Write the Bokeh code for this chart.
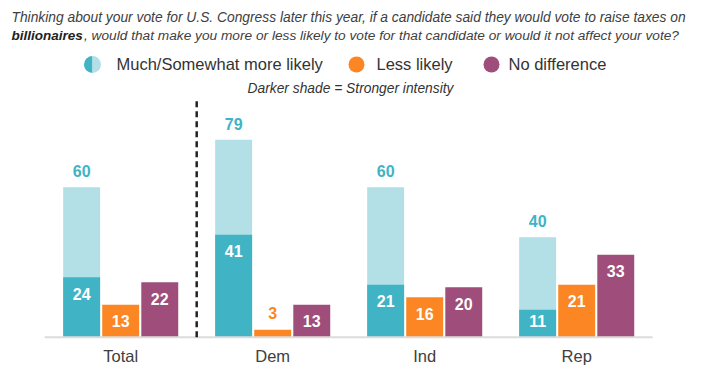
import numpy as np
from bokeh.plotting import figure
from bokeh.models import ColumnDataSource
from bokeh.core.properties import value
from bokeh.embed import file_html
from bokeh.resources import INLINE

# ---------------- data ----------------
groups = ["Total", "Dem", "Ind", "Rep"]
more_likely = [60, 79, 60, 40]          # Much/Somewhat more likely (total)
strongly_more = [24, 41, 21, 11]        # Much more likely (darker shade)
less_likely = [13, 3, 16, 21]
no_difference = [22, 13, 20, 33]

legend_labels = ["Much/Somewhat more likely", "Less likely", "No difference"]
title_line1 = ("Thinking about your vote for U.S. Congress later this year, "
               "if a candidate said they would vote to raise taxes on")
title_bold = "billionaires"
title_rest = (", would that make you more or less likely to vote for that "
              "candidate or would it not affect your vote?")
note = "Darker shade = Stronger intensity"

# ---------------- style ----------------
LIGHT = "#b2e0e6"
TEAL = "#40b3c5"
ORANGE = "#fb8623"
PURPLE = "#9f4d7a"
TXT = "#404040"
FONT = value("Liberation Sans")

W, H = 702, 377
X0_PAGE, XSTEP = 120.2, 152.0
Y0_PAGE, YSCALE = 336.7, 2.5


def xr(px):
    return (px - X0_PAGE) / XSTEP


def yr(py):
    return (Y0_PAGE - py) / YSCALE


def ybase(py, fs):
    # baseline position compensated for renderer's baseline offset
    return yr(py - 0.4 * fs)


p = figure(width=W, height=H,
           x_range=(xr(0), xr(W)), y_range=(yr(H), yr(0)),
           output_backend="svg", toolbar_location=None, min_border=0)
p.axis.visible = False
p.grid.visible = False
p.outline_line_color = None
p.background_fill_color = "white"
p.border_fill_color = "white"

idx = np.arange(len(groups), dtype=float)
OFF = 0.257
BW = 0.243

# bars
src_more = ColumnDataSource(dict(x=idx - OFF, top=more_likely))
src_strong = ColumnDataSource(dict(x=idx - OFF, top=strongly_more))
src_less = ColumnDataSource(dict(x=idx, top=less_likely))
src_nodiff = ColumnDataSource(dict(x=idx + OFF, top=no_difference))
p.vbar(x="x", top="top", bottom=0, width=BW, source=src_more, color=LIGHT, line_color=None)
p.vbar(x="x", top="top", bottom=0, width=BW, source=src_strong, color=TEAL, line_color=None)
p.vbar(x="x", top="top", bottom=0, width=BW, source=src_less, color=ORANGE, line_color=None)
p.vbar(x="x", top="top", bottom=0, width=BW, source=src_nodiff, color=PURPLE, line_color=None)

# baseline
p.segment(x0=[-0.5], x1=[len(groups) - 0.5], y0=[0], y1=[0], line_color="#dcdcdc", line_width=2)

# dashed separator between Total and Dem
p.segment(x0=[0.5], x1=[0.5], y0=[0], y1=[yr(97)], line_color="#222222",
          line_width=2.5, line_dash="6 4")

# value labels (positions in data units; 1 unit = 2.5 px)
VFS = 16
vshift = 0.4 * VFS / YSCALE
inside_x, inside_y, inside_t = [], [], []
above_x, above_y, above_t, above_c = [], [], [], []
for xs, vals, col in ((idx - OFF, strongly_more, TEAL), (idx, less_likely, ORANGE),
                      (idx + OFF, no_difference, PURPLE)):
    for x, v in zip(xs, vals):
        if v < 8:
            above_x.append(x); above_y.append(v + 4.1 + vshift); above_t.append(str(v)); above_c.append(col)
        else:
            inside_x.append(x); inside_y.append(max(v - 9.2, 4.1) + vshift); inside_t.append(str(v))
for x, v in zip(idx - OFF, more_likely):
    above_x.append(x); above_y.append(v + 3.8 + vshift); above_t.append(str(v)); above_c.append(TEAL)

p.text(x=inside_x, y=inside_y, text=inside_t, text_color="white", text_font=FONT,
       text_font_size=f"{VFS}px", text_font_style="bold", text_align="center",
       text_baseline="alphabetic")
p.text(x=above_x, y=above_y, text=above_t, text_color=above_c, text_font=FONT,
       text_font_size=f"{VFS}px", text_font_style="bold", text_align="center",
       text_baseline="alphabetic")

# category labels
p.text(x=idx, y=[ybase(362, 16.5)] * len(groups), text=groups, text_color=TXT, text_font=FONT,
       text_font_size="16.5px", text_align="center", text_baseline="alphabetic")

# title
p.text(x=[xr(11)], y=[ybase(22.5, 13.8)], text=[title_line1], text_color=TXT, text_font=FONT,
       text_font_size="13.8px", text_font_style="italic", text_baseline="alphabetic")
p.text(x=[xr(11)], y=[ybase(40, 13.5)], text=[title_bold], text_color="#222222", text_font=FONT,
       text_font_size="13.5px", text_font_style="bold italic", text_baseline="alphabetic")
p.text(x=[xr(83.5)], y=[ybase(40, 13.7)], text=[title_rest], text_color=TXT, text_font=FONT,
       text_font_size="13.7px", text_font_style="italic", text_baseline="alphabetic")

# legend
ly = yr(64)
p.wedge(x=[xr(92)], y=[ly], radius=8.5, radius_units="screen",
        start_angle=np.pi / 2, end_angle=3 * np.pi / 2, color=TEAL, line_color=None)
p.wedge(x=[xr(92)], y=[ly], radius=8.5, radius_units="screen",
        start_angle=-np.pi / 2, end_angle=np.pi / 2, color=LIGHT, line_color=None)
p.circle(x=[xr(356), xr(491)], y=[ly, ly], radius=8, radius_units="screen",
         color=[ORANGE, PURPLE], line_color=None)
p.text(x=[xr(116), xr(376), xr(508)], y=[ybase(70, 16.5)] * 3, text=legend_labels,
       text_color="#333333", text_font=FONT, text_font_size="16.5px",
       text_baseline="alphabetic")
p.text(x=[xr(350)], y=[ybase(94, 13.8)], text=[note], text_color="#333333", text_font=FONT,
       text_font_size="13.8px", text_font_style="italic", text_align="center",
       text_baseline="alphabetic")

open("out.html", "w").write(file_html(p, INLINE))
